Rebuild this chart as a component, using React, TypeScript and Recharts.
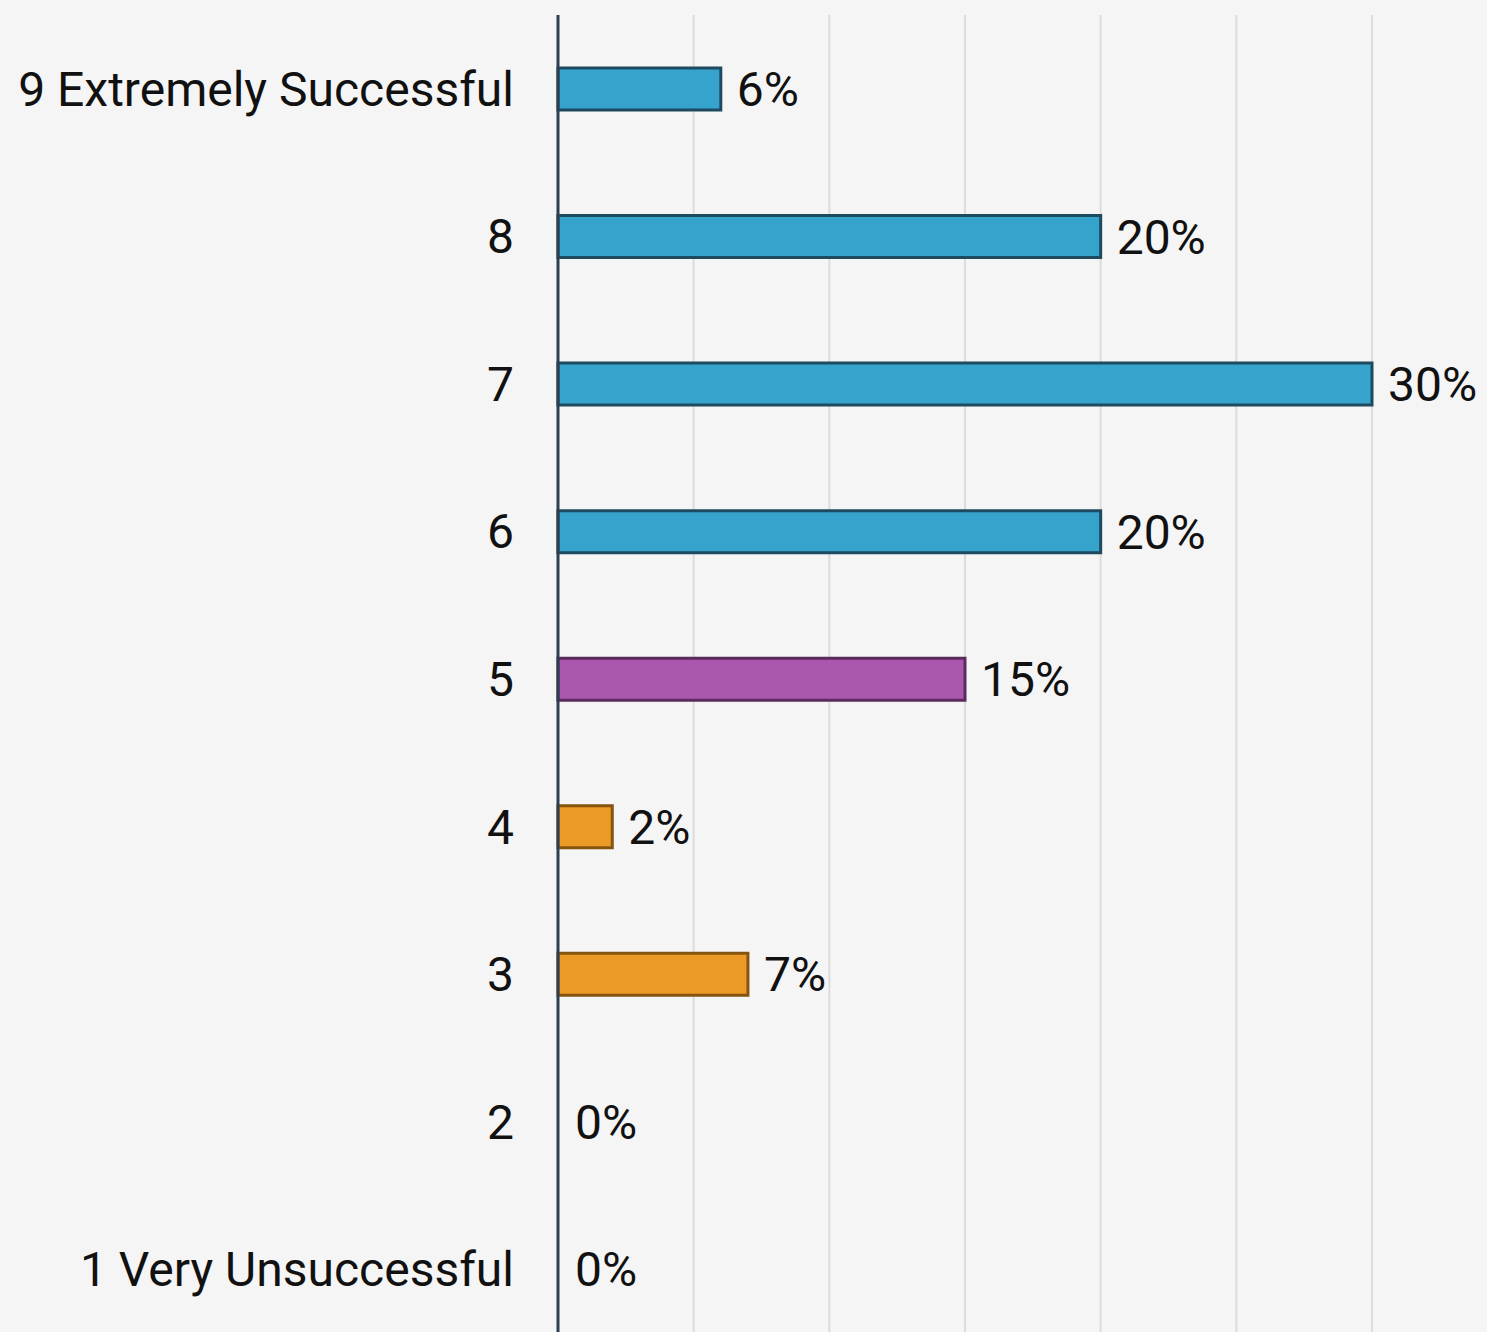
import { Bar, BarChart, CartesianGrid, Cell, LabelList, XAxis, YAxis } from 'recharts';

const categories = [
  '9 Extremely Successful',
  '8',
  '7',
  '6',
  '5',
  '4',
  '3',
  '2',
  '1 Very Unsuccessful',
];
const shares = [6, 20, 30, 20, 15, 2, 7, 0, 0];
const groups = ['high', 'high', 'high', 'high', 'mid', 'low', 'low', 'low', 'low'];
const xTicks = [0, 5, 10, 15, 20, 25, 30];

const palette: Record<string, { fill: string; stroke: string }> = {
  high: { fill: '#36a3cc', stroke: '#1e4a60' },
  mid: { fill: '#aa57ad', stroke: '#5b2b5e' },
  low: { fill: '#ec9a26', stroke: '#85540f' },
};

const rows = categories.map((name, i) => ({ name, value: shares[i], group: groups[i] }));

export default function App() {
  return (
    <div
      style={{
        width: 1487,
        height: 1332,
        overflow: 'hidden',
        background: '#f5f5f5',
        fontFamily: 'Roboto, sans-serif',
      }}
    >
      <style>{'body{margin:0}'}</style>
      <BarChart
        width={1487}
        height={1343}
        data={rows}
        layout="vertical"
        margin={{ top: 15, right: 115, bottom: 0, left: 0 }}
      >
        <CartesianGrid horizontal={false} stroke="#dcdcdc" strokeWidth={2} />
        <XAxis type="number" domain={[0, 30]} ticks={xTicks} hide />
        <YAxis
          type="category"
          dataKey="name"
          width={558}
          tickLine={false}
          tickSize={0}
          tickMargin={44}
          axisLine={{ stroke: '#2c3e50', strokeWidth: 3 }}
          tick={{ fill: '#111111', fontSize: 48, fontFamily: 'Roboto' }}
          interval={0}
        />
        <Bar dataKey="value" barSize={42} strokeWidth={3} minPointSize={1} isAnimationActive={false}>
          {rows.map((r) =>
            r.value === 0 ? (
              <Cell key={r.name} fill="none" stroke="none" />
            ) : (
              <Cell key={r.name} fill={palette[r.group].fill} stroke={palette[r.group].stroke} />
            ),
          )}
          <LabelList
            dataKey="value"
            position="right"
            offset={16}
            formatter={(v: unknown) => `${v}%`}
            style={{ fill: '#111111', fontSize: 48, fontFamily: 'Roboto' }}
          />
        </Bar>
      </BarChart>
    </div>
  );
}
